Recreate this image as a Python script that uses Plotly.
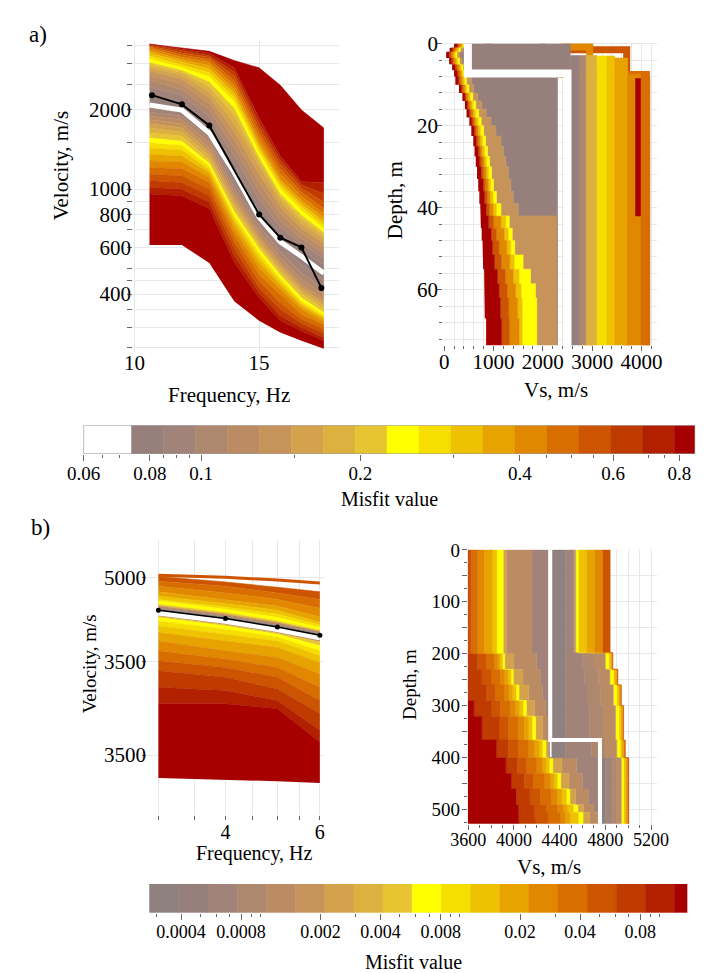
import math
import plotly.graph_objects as go

W, H = 709, 973
SERIF = '"Liberation Serif", "Times New Roman", Times, serif'
GRID = "#e8e8e8"
TICK = "#666666"

# ---------------- misfit colour classes ----------------
MISFIT_COLORS = ["#8e8180", "#97807b", "#a28379", "#ae876f", "#bb8c64",
                 "#c6935a", "#d4a24c", "#dcb13f", "#e7c532", "#ffff00",
                 "#f6de00", "#eec200", "#e7a300", "#e18700", "#d86e00",
                 "#cd5400", "#bf3b00", "#b32000", "#a60000"]
EDGES_A = [0.06, 0.0739, 0.0849, 0.0976, 0.1121, 0.1288, 0.1480, 0.1701, 0.1954,
           0.2245, 0.2580, 0.2964, 0.3406, 0.3913, 0.4496, 0.5166, 0.5936, 0.6820,
           0.7836, 0.857]
COLORS_A = ["#ffffff"] + MISFIT_COLORS[1:]
EDGES_B = [0.000277, 0.00039, 0.000546, 0.000765, 0.00107, 0.0015, 0.0021, 0.00294,
           0.00411, 0.00576, 0.00806, 0.01129, 0.0158, 0.0221, 0.031, 0.0434, 0.0607,
           0.085, 0.119, 0.138]
COLORS_B = MISFIT_COLORS

CBAR_A_TICKS = [0.06, 0.08, 0.1, 0.2, 0.4, 0.6, 0.8]
CBAR_A_MINOR = [0.065, 0.07, 0.085, 0.09, 0.095, 0.15, 0.3, 0.45, 0.5, 0.55, 0.7, 0.75]
CBAR_B_TICKS = [0.0004, 0.0008, 0.002, 0.004, 0.008, 0.02, 0.04, 0.08]
CBAR_B_MINOR = [0.0003, 0.0005, 0.0006, 0.0007, 0.0009, 0.001, 0.003, 0.005, 0.006,
                0.007, 0.009, 0.01, 0.03, 0.05, 0.06, 0.07, 0.09, 0.1]

# ---------------- a) dispersion curves ----------------
A_FREQ = [10.6, 11.9, 13.0, 14.0, 15.0, 15.85, 16.7, 17.6]
A_LOWER = [
    [614, 614, 524, 376, 317, 286, 266, 248],
    [958, 944, 842, 528, 387, 317, 290, 266],
    [1014, 1000, 891, 560, 404, 331, 299, 274],
    [1074, 1059, 944, 596, 422, 350, 310, 284],
    [1138, 1122, 1000, 631, 447, 371, 322, 295],
    [1205, 1195, 1059, 669, 474, 397, 335, 306],
    [1277, 1266, 1106, 704, 502, 416, 350, 315],
    [1353, 1333, 1148, 740, 528, 432, 360, 322],
    [1432, 1404, 1181, 768, 550, 445, 368, 326],
    [1496, 1462, 1216, 790, 571, 457, 376, 332],
    [1561, 1517, 1252, 818, 593, 471, 387, 340],
    [1630, 1584, 1288, 842, 611, 485, 399, 350],
    [1702, 1640, 1333, 871, 627, 499, 410, 360],
    [1767, 1702, 1380, 904, 646, 513, 422, 371],
    [1829, 1767, 1432, 938, 665, 528, 434, 382],
    [1893, 1829, 1496, 972, 692, 550, 453, 399],
    [1960, 1893, 1548, 1014, 725, 579, 480, 422],
    [2015, 1948, 1593, 1059, 754, 611, 516, 453],
]
A_LOWER_MISFIT = [0.82, 0.73, 0.64, 0.55, 0.48, 0.42, 0.36, 0.32, 0.28, 0.24,
                  0.21, 0.18, 0.16, 0.138, 0.12, 0.105, 0.091, 0.079]
A_BEST = [2082, 1993, 1630, 1155, 783, 631, 555, 480]
A_UPPER = [
    [2269, 2142, 1752, 1241, 854, 678, 588, 516],
    [2438, 2269, 1883, 1333, 917, 718, 622, 547],
    [2582, 2382, 1993, 1432, 986, 761, 650, 571],
    [2696, 2495, 2111, 1539, 1059, 806, 678, 596],
    [2799, 2604, 2224, 1654, 1138, 854, 708, 622],
    [2880, 2696, 2335, 1777, 1223, 897, 740, 646],
    [2948, 2767, 2438, 1910, 1277, 931, 768, 665],
    [3016, 2815, 2545, 2022, 1314, 958, 795, 684],
    [3112, 2880, 2658, 2142, 1372, 1000, 830, 708],
    [3194, 2956, 2759, 2224, 1412, 1029, 854, 729],
    [3269, 3025, 2848, 2301, 1453, 1059, 879, 750],
    [3336, 3095, 2939, 2382, 1496, 1090, 904, 777],
    [3403, 3157, 3025, 2474, 1561, 1138, 939, 806],
    [3452, 3221, 3095, 2567, 1630, 1188, 972, 842],
    [3492, 3277, 3157, 2673, 1702, 1241, 1006, 891],
    [3523, 3336, 3203, 2775, 1777, 1288, 1035, 958],
    [3541, 3384, 3269, 2880, 1856, 1333, 1065, 1059],
    [3541, 3423, 3326, 3069, 2880, 2474, 1993, 1702],
]
A_UPPER_MISFIT = [0.079, 0.091, 0.105, 0.12, 0.138, 0.16, 0.18, 0.21, 0.24, 0.28,
                  0.32, 0.36, 0.42, 0.48, 0.55, 0.64, 0.73, 0.82]
A_OBS_FREQ = [10.7, 11.9, 13.0, 15.0, 15.85, 16.7, 17.5]
A_OBS_VEL = [2269, 2094, 1742, 801, 654, 601, 422]
A_VEL_TICKS = [250, 300, 350, 400, 450, 500, 600, 700, 800, 900, 1000, 1500, 2000,
               2500, 3000, 3500]
A_VEL_LABELS = {400: "400", 600: "600", 800: "800", 1000: "1000", 2000: "2000"}

# ---------------- a) Vs profiles ----------------
AR_Z = [0, 1, 2, 3.5, 5, 6.5, 8, 10, 12, 14, 16, 18, 20, 22.5, 25, 27.5, 30, 33,
        36, 39, 42, 45, 48, 51.5, 55, 58.5, 62, 67]
AR_ZMAX = 74
AR_BOUNDS = [
    [200, 110, 40, 100, 160, 200, 226, 300, 369, 420, 453, 510, 550, 590, 615, 640,
     666, 690, 712, 730, 744, 760, 776, 790, 809, 815, 822, 850],
    [260, 170, 100, 150, 220, 260, 290, 350, 420, 470, 510, 560, 610, 650, 690, 720,
     750, 790, 820, 850, 900, 950, 980, 1020, 1080, 1110, 1140, 1165],
    [300, 210, 140, 190, 260, 300, 330, 380, 450, 500, 550, 600, 650, 690, 730, 765,
     800, 840, 880, 920, 1000, 1060, 1110, 1160, 1240, 1280, 1310, 1326],
    [340, 250, 180, 230, 300, 340, 370, 420, 490, 540, 590, 640, 690, 730, 770, 810,
     850, 890, 930, 990, 1150, 1220, 1270, 1330, 1400, 1450, 1490, 1520],
    [380, 290, 220, 270, 340, 380, 410, 455, 530, 580, 640, 690, 740, 780, 820, 860,
     900, 940, 990, 1060, 1250, 1300, 1350, 1420, 1520, 1560, 1580, 1585],
    [420, 330, 260, 310, 380, 420, 450, 500, 580, 640, 700, 750, 800, 840, 880, 920,
     960, 1000, 1060, 1150, 1320, 1380, 1430, 1600, 1750, 1850, 1876, 1876],
    [450, 380, 320, 360, 430, 480, 550, 600, 680, 760, 850, 950, 1050, 1150, 1200,
     1250, 1300, 1350, 1400, 1500, 2297, 2297, 2297, 2297, 2297, 2297, 2297, 2297],
    [2556, 2556, 2556, 2556, 2556, 2556, 2297, 2297, 2297, 2297, 2297, 2297, 2297,
     2297, 2297, 2297, 2297, 2297, 2297, 2297, 2297, 2297, 2297, 2297, 2297, 2297,
     2297, 2297],
]
AR_BAND_MISFIT = [0.82, 0.55, 0.42, 0.32, 0.24, 0.138, 0.079]
AR_RECT_LEFT = [2556, 2750, 2880, 3100, 3300, 3460, 3720, 3990, 3880]
AR_RECT_RIGHT = [2750, 2880, 3100, 3300, 3460, 3720, 3990, 4170, 3980]
AR_RECT_TOP = [2.9, 2.9, 2.9, 3.0, 3.0, 3.5, 7.5, 8.0, 8.5]
AR_RECT_BOTTOM = [74, 74, 74, 74, 74, 74, 74, 74, 42]
AR_RECT_MISFIT = [0.079, 0.105, 0.18, 0.28, 0.32, 0.36, 0.42, 0.48, 0.82]
AR_CAP_VS = [[900, 3700], [2000, 4100], [2400, 2950]]
AR_CAP_Z = [[0, 1.5], [0, 7.5], [0, 0.8]]
AR_CAP_MISFIT = [0.55, 0.48, 0.42]
AR_BEST_VS = [480, 2500]
AR_BEST_Z = [0, 7.3]

# ---------------- b) dispersion curves ----------------
B_FREQ = [3, 4, 5, 6]
B_LOWER = [
    [3886, 3878, 3870, 3862],
    [4266, 4266, 4240, 4066],
    [4356, 4338, 4284, 4126],
    [4447, 4411, 4347, 4213],
    [4503, 4466, 4411, 4284],
    [4560, 4513, 4466, 4356],
    [4617, 4560, 4522, 4429],
    [4666, 4617, 4579, 4494],
    [4705, 4656, 4617, 4532],
    [4735, 4686, 4641, 4560],
    [4755, 4705, 4656, 4589],
    [4763, 4713, 4664, 4612],
    [4768, 4719, 4670, 4621],
]
B_LOWER_MISFIT = [0.125, 0.1, 0.072, 0.051, 0.037, 0.026, 0.019, 0.0135, 0.0095,
                  0.0068, 0.0049, 0.0013, 0.00033]
B_BEST = [4783, 4733, 4684, 4635]
B_UPPER = [
    [4811, 4761, 4711, 4662],
    [4825, 4775, 4725, 4672],
    [4835, 4785, 4735, 4680],
    [4855, 4805, 4755, 4696],
    [4865, 4818, 4775, 4711],
    [4885, 4839, 4799, 4725],
    [4912, 4865, 4825, 4759],
    [4946, 4905, 4865, 4811],
    [4977, 4946, 4905, 4865],
    [5008, 4973, 4940, 4912],
]
B_UPPER_MISFIT = [0.00033, 0.0013, 0.0049, 0.0068, 0.0095, 0.0135, 0.019, 0.026,
                  0.037, 0.051]
B_TOP_CURVE = [5015, 5002, 4985, 4967]
B_TOP_MISFIT = 0.051
B_OBS_FREQ = [3, 4, 5, 6]
B_OBS_VEL = [4799, 4749, 4699, 4650]
B_FREQ_TICKS = [3, 3.5, 4, 4.5, 5, 5.5, 6]
B_FREQ_LABELS = {4: "4", 6: "6"}
B_VEL_TICKS = [4000, 4500, 5000]
B_VEL_LABELS = ["3500", "3500", "5000"]

# ---------------- b) Vs profiles ----------------
BR_ZMAX = 530
BR_Z_LEFT = [0, 200, 230, 260, 290, 320, 366, 400, 430, 460, 490, 505]
BR_LEFT_BOUNDS = [
    [3550, 3550, 3550, 3550, 3550, 3550, 3550, 3550, 3550, 3550, 3550, 3550],
    [3600, 3600, 3600, 3600, 3650, 3720, 3850, 3930, 3980, 4020, 4040, 4044],
    [3600, 3680, 3720, 3760, 3800, 3870, 3950, 4030, 4090, 4140, 4180, 4186],
    [3628, 3760, 3800, 3840, 3880, 3950, 4040, 4110, 4170, 4230, 4280, 4298],
    [3684, 3830, 3880, 3920, 3970, 4040, 4130, 4200, 4270, 4330, 4380, 4410],
    [3740, 3860, 3920, 3960, 4010, 4090, 4180, 4250, 4320, 4380, 4430, 4450],
    [3809, 3880, 3950, 3990, 4050, 4130, 4220, 4280, 4350, 4420, 4470, 4494],
    [3851, 3900, 3975, 4020, 4080, 4160, 4250, 4310, 4380, 4460, 4520, 4563],
    [3907, 3920, 3995, 4045, 4110, 4190, 4280, 4340, 4410, 4490, 4560, 4605],
    [3935, 4000, 4080, 4130, 4180, 4250, 4300, 4420, 4480, 4540, 4610, 4661],
    [4158, 4200, 4230, 4250, 4280, 4300, 4310, 4550, 4600, 4650, 4700, 4745],
    [4300, 4300, 4300, 4300, 4300, 4300, 4310, 4740, 4740, 4740, 4740, 4745],
]
BR_LEFT_MISFIT = [0.125, 0.072, 0.051, 0.037, 0.026, 0.019, 0.0135, 0.0068, 0.0025,
                  0.0013, 0.00065]
BR_Z_RIGHT = [0, 198, 230, 260, 300, 366, 400]
BR_RIGHT_BOUNDS = [
    [4330, 4330, 4330, 4330, 4330, 4330, 4760],
    [4450, 4450, 4450, 4450, 4450, 4450, 4800],
    [4521, 4600, 4620, 4640, 4660, 4680, 4860],
    [4530, 4700, 4740, 4760, 4780, 4800, 4900],
    [4540, 4800, 4840, 4870, 4890, 4900, 4940],
    [4563, 4830, 4870, 4900, 4920, 4930, 4960],
    [4633, 4845, 4885, 4915, 4935, 4945, 4975],
    [4703, 4856, 4900, 4930, 4950, 4960, 4990],
    [4773, 4860, 4905, 4935, 4955, 4965, 4996],
    [4842, 4866, 4910, 4940, 4960, 4975, 5005],
]
BR_RIGHT_MISFIT = [0.00033, 0.00065, 0.0009, 0.0013, 0.0068, 0.0135, 0.019, 0.026,
                   0.051]
BR_BEST_VS = [4318, 4753]
BR_BEST_Z = [0, 366]


# ================= helpers =================
def dom_x(a, b):
    return [a / W, b / W]


def dom_y(top, bottom):
    return [1 - bottom / H, 1 - top / H]


def color_of(m, edges, colors):
    for i in range(len(colors)):
        if m < edges[i + 1]:
            return colors[i]
    return colors[-1]


def steps(vs, tops, zmax):
    xs, ys = [], []
    for i, v in enumerate(vs):
        z1 = tops[i + 1] if i + 1 < len(tops) else zmax
        xs += [v, v]
        ys += [tops[i], z1]
    return xs, ys


fig = go.Figure()


def add_curve_bands(base, curves, misfits, freq, edges, colors, xa, ya):
    fig.add_trace(go.Scatter(x=freq, y=base, mode="lines", line=dict(width=0),
                             xaxis=xa, yaxis=ya, hoverinfo="skip"))
    for cur, m in zip(curves, misfits):
        c = color_of(m, edges, colors)
        fig.add_trace(go.Scatter(x=freq, y=cur, mode="lines", fill="tonexty",
                                 fillcolor=c, line=dict(width=0.6, color=c),
                                 xaxis=xa, yaxis=ya, hoverinfo="skip"))


def add_profile_bands(bounds, tops, zmax, misfits, edges, colors, xa, ya):
    xs, ys = steps(bounds[0], tops, zmax)
    fig.add_trace(go.Scatter(x=xs, y=ys, mode="lines", line=dict(width=0),
                             xaxis=xa, yaxis=ya, hoverinfo="skip"))
    for b, m in zip(bounds[1:], misfits):
        c = color_of(m, edges, colors)
        xs, ys = steps(b, tops, zmax)
        fig.add_trace(go.Scatter(x=xs, y=ys, mode="lines", fill="tonextx",
                                 fillcolor=c, line=dict(width=0.6, color=c),
                                 xaxis=xa, yaxis=ya, hoverinfo="skip"))


# ---- a) dispersion ----
add_curve_bands(A_LOWER[0], A_LOWER[1:] + [A_BEST], A_LOWER_MISFIT, A_FREQ,
                EDGES_A, COLORS_A, "x", "y")
add_curve_bands(A_BEST, A_UPPER, A_UPPER_MISFIT, A_FREQ, EDGES_A, COLORS_A, "x", "y")
fig.add_trace(go.Scatter(x=A_FREQ, y=A_BEST, mode="lines",
                         line=dict(color="white", width=5), xaxis="x", yaxis="y"))
fig.add_trace(go.Scatter(x=A_OBS_FREQ, y=A_OBS_VEL, mode="lines+markers",
                         line=dict(color="black", width=2),
                         marker=dict(color="black", size=6), xaxis="x", yaxis="y"))

# ---- a) profiles ----
for vs, zz, m in zip(AR_CAP_VS, AR_CAP_Z, AR_CAP_MISFIT):
    xs, ys = steps(vs, zz, AR_ZMAX)
    fig.add_trace(go.Scatter(x=xs, y=ys, mode="lines",
                             line=dict(color=color_of(m, EDGES_A, COLORS_A), width=7),
                             xaxis="x2", yaxis="y2", hoverinfo="skip"))
for l, r, t, b, m in zip(AR_RECT_LEFT, AR_RECT_RIGHT, AR_RECT_TOP, AR_RECT_BOTTOM,
                         AR_RECT_MISFIT):
    c = color_of(m, EDGES_A, COLORS_A)
    fig.add_trace(go.Scatter(x=[l, r, r, l, l], y=[t, t, b, b, t], mode="lines",
                             fill="toself", fillcolor=c, line=dict(width=0.6, color=c),
                             xaxis="x2", yaxis="y2", hoverinfo="skip"))
add_profile_bands(AR_BOUNDS, AR_Z, AR_ZMAX, AR_BAND_MISFIT, EDGES_A, COLORS_A,
                  "x2", "y2")
xs, ys = steps(AR_BEST_VS, AR_BEST_Z, AR_ZMAX)
fig.add_trace(go.Scatter(x=xs, y=ys, mode="lines", line=dict(color="white", width=8),
                         xaxis="x2", yaxis="y2"))

# ---- b) dispersion ----
fig.add_trace(go.Scatter(x=B_FREQ, y=B_TOP_CURVE, mode="lines",
                         line=dict(color=color_of(B_TOP_MISFIT, EDGES_B, COLORS_B),
                                   width=3), xaxis="x3", yaxis="y3"))
add_curve_bands(B_LOWER[0], B_LOWER[1:] + [B_BEST], B_LOWER_MISFIT, B_FREQ,
                EDGES_B, COLORS_B, "x3", "y3")
add_curve_bands(B_BEST, B_UPPER, B_UPPER_MISFIT, B_FREQ, EDGES_B, COLORS_B, "x3", "y3")
fig.add_trace(go.Scatter(x=B_FREQ, y=B_BEST, mode="lines",
                         line=dict(color="white", width=5), xaxis="x3", yaxis="y3"))
fig.add_trace(go.Scatter(x=B_OBS_FREQ, y=B_OBS_VEL, mode="lines+markers",
                         line=dict(color="black", width=1.5),
                         marker=dict(color="black", size=5), xaxis="x3", yaxis="y3"))

# ---- b) profiles ----
add_profile_bands(BR_LEFT_BOUNDS, BR_Z_LEFT, BR_ZMAX, BR_LEFT_MISFIT, EDGES_B,
                  COLORS_B, "x4", "y4")
add_profile_bands(BR_RIGHT_BOUNDS, BR_Z_RIGHT, BR_ZMAX, BR_RIGHT_MISFIT, EDGES_B,
                  COLORS_B, "x4", "y4")
xs, ys = steps(BR_BEST_VS, BR_BEST_Z, BR_ZMAX)
fig.add_trace(go.Scatter(x=xs, y=ys, mode="lines", line=dict(color="white", width=4),
                         xaxis="x4", yaxis="y4"))


# ---- colour bars ----
def add_cbar(edges, colors, xa, ya, border):
    for i, c in enumerate(colors):
        e0, e1 = edges[i], edges[i + 1]
        fig.add_trace(go.Scatter(x=[e0, e1, e1, e0, e0], y=[0, 0, 1, 1, 0],
                                 mode="lines", fill="toself", fillcolor=c,
                                 line=dict(width=0.5, color=c), xaxis=xa, yaxis=ya,
                                 hoverinfo="skip"))
    if border:
        fig.add_trace(go.Scatter(x=[edges[0], edges[-1], edges[-1], edges[0], edges[0]],
                                 y=[0, 0, 1, 1, 0], mode="lines",
                                 line=dict(width=1, color="#9a9a9a"), xaxis=xa,
                                 yaxis=ya, hoverinfo="skip"))


add_cbar(EDGES_A, COLORS_A, "x5", "y5", True)
add_cbar(EDGES_B, COLORS_B, "x6", "y6", False)

# ================= axes =================
tf = lambda s: dict(family=SERIF, size=s, color="black")
common = dict(showline=False, zeroline=False, gridcolor=GRID, gridwidth=1,
              tickcolor=TICK, tickwidth=1)

fig.update_layout(
    width=W, height=H, margin=dict(l=0, r=0, t=0, b=0),
    paper_bgcolor="white", plot_bgcolor="white", showlegend=False,
    font=dict(family=SERIF, color="black"),
    xaxis=dict(domain=dom_x(120.4, 335), range=[9.95, 18.2], anchor="y",
               tickmode="array", tickvals=[10, 15], ticktext=["10", "15"], ticks="",
               showgrid=True, tickfont=tf(21), ticklabelstandoff=-4, **common),
    yaxis=dict(domain=dom_y(30, 345), type="log",
               range=[math.log10(241), math.log10(3650)], anchor="x",
               tickmode="array", tickvals=A_VEL_TICKS,
               ticktext=[A_VEL_LABELS.get(v, "") for v in A_VEL_TICKS],
               ticks="outside", ticklen=5, showgrid=True, tickfont=tf(21),
               ticklabelstandoff=-8, **common),
    xaxis2=dict(domain=dom_x(444, 667), range=[-20, 4310], anchor="y2",
                tickmode="array", tickvals=[0, 1000, 2000, 3000, 4000],
                ticks="outside", ticklen=5, showgrid=True, tickfont=tf(21),
                ticklabelstandoff=-7,
                minor=dict(dtick=200, tick0=0, ticks="outside", ticklen=3,
                           tickcolor=TICK, showgrid=True, gridcolor=GRID),
                **common),
    yaxis2=dict(domain=dom_y(32, 338), range=[73.5, -0.25], anchor="x2",
                tickmode="array", tickvals=[0, 20, 40, 60], ticks="outside",
                ticklen=5, showgrid=True, tickfont=tf(21), ticklabelstandoff=-5,
                minor=dict(dtick=4, tick0=0, ticks="outside", ticklen=3,
                           tickcolor=TICK, showgrid=True, gridcolor=GRID),
                **common),
    xaxis3=dict(domain=dom_x(135, 320), type="log",
                range=[math.log10(2.86), math.log10(6.12)], anchor="y3",
                tickmode="array", tickvals=B_FREQ_TICKS,
                ticktext=[B_FREQ_LABELS.get(v, "") for v in B_FREQ_TICKS],
                ticks="outside", ticklen=4, showgrid=True, tickfont=tf(20),
                ticklabelstandoff=-5, **common),
    yaxis3=dict(domain=dom_y(535, 813), type="log",
                range=[math.log10(3710), math.log10(5243)], anchor="x3",
                tickmode="array", tickvals=B_VEL_TICKS, ticktext=B_VEL_LABELS,
                ticks="outside", ticklen=4, showgrid=True, tickfont=tf(21),
                ticklabelstandoff=-8, **common),
    xaxis4=dict(domain=dom_x(469.8, 667), range=[3598, 5250], anchor="y4",
                tickmode="array", tickvals=[3600, 4000, 4400, 4800, 5200],
                ticks="outside", ticklen=5, showgrid=True, tickfont=tf(18),
                ticklabelstandoff=-5,
                minor=dict(dtick=100, tick0=0, ticks="outside", ticklen=3,
                           tickcolor=TICK, showgrid=True, gridcolor=GRID),
                **common),
    yaxis4=dict(domain=dom_y(544.5, 822), range=[527, -1], anchor="x4",
                tickmode="array", tickvals=list(range(0, 501, 50)),
                ticktext=[str(v) if v % 100 == 0 else "" for v in range(0, 501, 50)],
                ticks="outside", ticklen=5, showgrid=True, tickfont=tf(19),
                ticklabelstandoff=-2,
                minor=dict(dtick=25, tick0=0, ticks="outside", ticklen=3,
                           tickcolor=TICK, showgrid=False),
                **common),
    xaxis5=dict(domain=dom_x(68.3, 707), type="log",
                range=[math.log10(0.05995), math.log10(0.857)], anchor="y5",
                tickmode="array", tickvals=CBAR_A_TICKS,
                ticktext=[str(v) for v in CBAR_A_TICKS], ticks="outside", ticklen=6,
                showgrid=False, tickfont=tf(19), ticklabelstandoff=-4,
                minor=dict(tickmode="array", tickvals=CBAR_A_MINOR, ticks="outside",
                           ticklen=3, tickcolor=TICK, showgrid=False),
                **common),
    yaxis5=dict(domain=dom_y(419, 448), range=[0, 1], anchor="x5", visible=False),
    xaxis6=dict(domain=dom_x(137, 699), type="log",
                range=[math.log10(0.000277), math.log10(0.138)], anchor="y6",
                tickmode="array", tickvals=CBAR_B_TICKS,
                ticktext=[str(v) for v in CBAR_B_TICKS], ticks="outside", ticklen=6,
                showgrid=False, tickfont=tf(18), ticklabelstandoff=-3,
                minor=dict(tickmode="array", tickvals=CBAR_B_MINOR, ticks="outside",
                           ticklen=3, tickcolor=TICK, showgrid=False),
                **common),
    yaxis6=dict(domain=dom_y(883, 912), range=[0, 1], anchor="x6", visible=False),
)


def ann(text, x, y, size, angle=0):
    fig.add_annotation(text=text, x=x / W, y=1 - y / H, xref="paper", yref="paper",
                       showarrow=False, textangle=angle, font=tf(size),
                       xanchor="center", yanchor="middle")


ann("a)", 21, 24, 23)
ann("b)", 24, 522, 23)
ann("Velocity, m/s", 45, 157, 21, -90)
ann("Frequency, Hz", 220, 388, 21)
ann("Depth, m", 393, 191, 21, -90)
ann("Vs, m/s", 562, 383, 21)
ann("Misfit value", 388, 494, 20)
ann("Velocity, m/s", 75, 660, 19, -90)
ann("Frequency, Hz", 247, 852, 20)
ann("Depth, m", 409, 681, 19, -90)
ann("Vs, m/s", 554, 866, 21)
ann("Misfit value", 413, 962, 20)

fig.write_html("out.html")
